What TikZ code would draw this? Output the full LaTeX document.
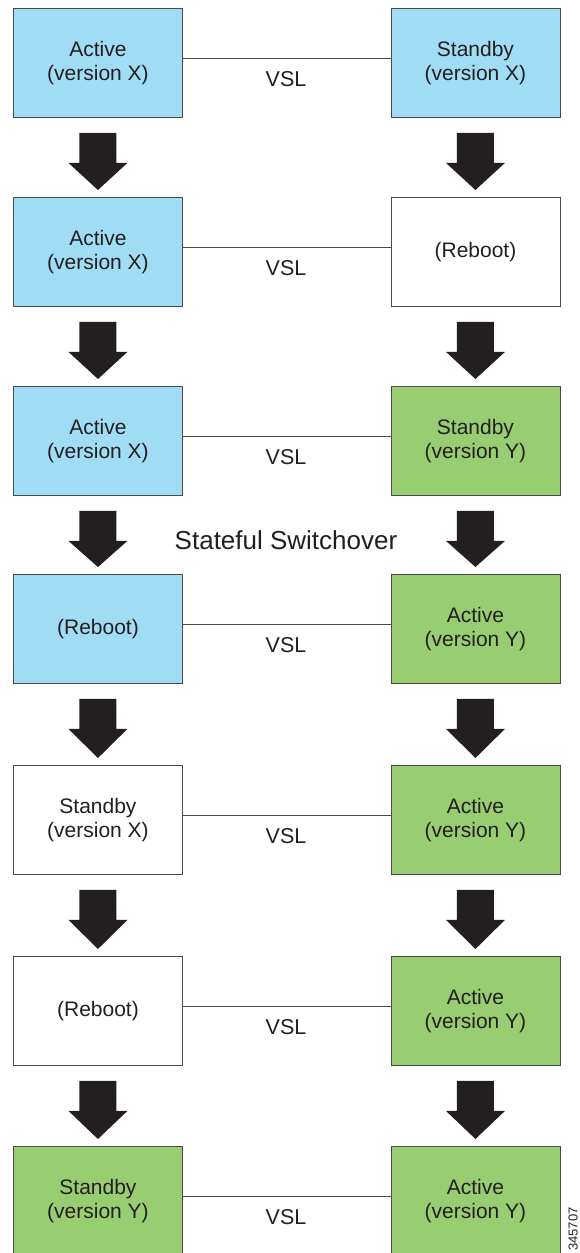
\documentclass[tikz,border=0pt]{standalone}
\usepackage{fontspec}
\setmainfont{Liberation Sans}
\usetikzlibrary{calc}
\definecolor{ablue}{HTML}{A0DCF4}
\definecolor{agreen}{HTML}{99CD72}
\definecolor{ink}{HTML}{231F20}
\definecolor{edge}{HTML}{4A4A4A}
\begin{document}
\begin{tikzpicture}[x=1pt,y=-1pt,
  box/.style={draw=edge,line width=0.9pt,minimum width=169pt,minimum height=109pt,
    anchor=north west,inner sep=0pt,align=center,text=ink,
    font=\fontsize{21}{24.5}\selectfont},
  bluebox/.style={box,fill=ablue},
  greenbox/.style={box,fill=agreen},
  whitebox/.style={box,fill=white},
  vsl/.style={draw=edge,line width=0.8pt},
  vsltext/.style={anchor=base,text=ink,font=\fontsize{21.5}{24}\selectfont,inner sep=0pt},
  blockarrow/.style={fill=ink}
]
\useasboundingbox (0,0) rectangle (579,1253);
% rows
\node[bluebox]  (L1) at (13,8)    {Active\\(version X)};
\node[bluebox]  (R1) at (390.5,8) {Standby\\(version X)};
\node[bluebox]  (L2) at (13,197)  {Active\\(version X)};
\node[whitebox] (R2) at (390.5,197) {(Reboot)};
\node[bluebox]  (L3) at (13,386)  {Active\\(version X)};
\node[greenbox] (R3) at (390.5,386) {Standby\\(version Y)};
\node[bluebox]  (L4) at (13,574)  {(Reboot)};
\node[greenbox] (R4) at (390.5,574) {Active\\(version Y)};
\node[whitebox] (L5) at (13,765)  {Standby\\(version X)};
\node[greenbox] (R5) at (390.5,765) {Active\\(version Y)};
\node[whitebox] (L6) at (13,956)  {(Reboot)};
\node[greenbox] (R6) at (390.5,956) {Active\\(version Y)};
\node[greenbox] (L7) at (13,1146) {Standby\\(version Y)};
\node[greenbox] (R7) at (390.5,1146) {Active\\(version Y)};
% VSL links
\foreach \i/\t in {1/8,2/197,3/386,4/574,5/765,6/956,7/1146}{
  \draw[vsl] ([yshift=4.5pt]L\i.east) -- ([yshift=4.5pt]R\i.west);
  \node[vsltext] (V\i) at (286,\t+78) {VSL};
}
% block arrows
\foreach \a/\b in {1/2,2/3,3/4,4/5,5/6,6/7}{
  \foreach \s in {L,R}{
    \fill[blockarrow]
      ($(\s\a.south)+(-18.5,15)$) -- ($(\s\a.south)+(18.5,15)$) --
      ($(\s\a.south)+(18.5,45)$) -- ($(\s\a.south)+(29.5,45)$) --
      ($(\s\b.north)+(0,-7)$) --
      ($(\s\a.south)+(-29.5,45)$) -- ($(\s\a.south)+(-18.5,45)$) -- cycle;
  }
}
\node[anchor=base,text=ink,font=\fontsize{26}{30}\selectfont,inner sep=0pt] (sw) at (286,549) {Stateful Switchover};
\node[anchor=base,rotate=90,text=ink,font=\fontsize{13}{15}\selectfont,inner sep=0pt] (id) at (577.5,1229) {345707};
\end{tikzpicture}
\end{document}
